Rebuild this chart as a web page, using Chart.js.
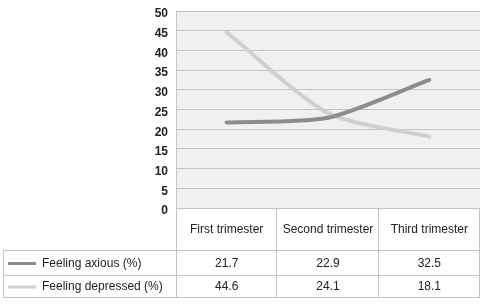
<!DOCTYPE html>
<html>
<head>
<meta charset="utf-8">
<script src="https://cdn.jsdelivr.net/npm/chart.js@4"></script>
<style>
  html, body { margin: 0; padding: 0; background: #fff; }
  #wrap { width: 485px; height: 307px; position: relative; }
</style>
</head>
<body>
<div id="wrap"><canvas id="trimesterChart"></canvas></div>
<script>
const categories = ["First trimester", "Second trimester", "Third trimester"];
const anxiousValues = [21.7, 22.9, 32.5];
const depressedValues = [44.6, 24.1, 18.1];
const seriesNames = ["Feeling axious (%)", "Feeling depressed (%)"];
const seriesColors = ["#8c8c8c", "#cfcfcf"];

const gridColor = "#c4c4c4";
const textColor = "#222";
const font = "Liberation Sans, Arial, sans-serif";

// plot background + data table under the x axis
const tablePlugin = {
  id: "dataTable",
  beforeDraw(chart) {
    const { ctx, chartArea: a } = chart;
    ctx.save();
    ctx.fillStyle = "#f0f0f0";
    ctx.fillRect(a.left, a.top, a.right - a.left, a.bottom - a.top);
    ctx.restore();
  },
  afterDraw(chart) {
    const { ctx, chartArea: a } = chart;
    const colW = (a.right - a.left) / categories.length;
    const headBottom = a.bottom + 42;
    const rowBottoms = [a.bottom + 67, a.bottom + 89];
    const tableLeft = 3;

    ctx.save();
    ctx.strokeStyle = gridColor;
    ctx.lineWidth = 1;
    ctx.beginPath();
    // left plot edge down through table
    ctx.moveTo(a.left + 0.5, a.top);
    ctx.lineTo(a.left + 0.5, rowBottoms[1]);
    // column separators
    for (let i = 1; i <= categories.length; i++) {
      const x = Math.round(a.left + colW * i) - 0.5;
      ctx.moveTo(x, a.bottom);
      ctx.lineTo(x, rowBottoms[1]);
    }
    // row lines
    [headBottom, ...rowBottoms].forEach((y) => {
      ctx.moveTo(tableLeft, y + 0.5);
      ctx.lineTo(a.right, y + 0.5);
    });
    ctx.moveTo(a.left, a.bottom + 0.5);
    ctx.lineTo(a.right, a.bottom + 0.5);
    ctx.moveTo(tableLeft + 0.5, headBottom);
    ctx.lineTo(tableLeft + 0.5, rowBottoms[1]);
    ctx.stroke();

    ctx.fillStyle = textColor;
    ctx.font = "12px " + font;
    ctx.textAlign = "center";
    ctx.textBaseline = "middle";
    categories.forEach((c, i) => {
      ctx.fillText(c, a.left + colW * (i + 0.5), a.bottom + 22);
    });

    const rows = [anxiousValues, depressedValues];
    const rowTops = [headBottom, rowBottoms[0]];
    rows.forEach((vals, r) => {
      const yMid = (rowTops[r] + rowBottoms[r]) / 2 + 1;
      ctx.strokeStyle = seriesColors[r];
      ctx.lineWidth = 3;
      ctx.beginPath();
      ctx.moveTo(8, yMid);
      ctx.lineTo(36, yMid);
      ctx.stroke();
      ctx.textAlign = "left";
      ctx.fillText(seriesNames[r], 42, yMid);
      ctx.textAlign = "center";
      vals.forEach((v, i) => {
        ctx.fillText(v.toFixed(1), a.left + colW * (i + 0.5), yMid);
      });
    });
    ctx.restore();
  },
};

new Chart(document.getElementById("trimesterChart"), {
  type: "line",
  data: {
    labels: categories,
    datasets: [
      {
        label: seriesNames[0],
        data: anxiousValues,
        borderColor: seriesColors[0],
        borderWidth: 4,
        pointRadius: 0,
        tension: 0.25,
        borderCapStyle: "round",
      },
      {
        label: seriesNames[1],
        data: depressedValues,
        borderColor: seriesColors[1],
        borderWidth: 4,
        pointRadius: 0,
        tension: 0.25,
        borderCapStyle: "round",
      },
    ],
  },
  options: {
    responsive: true,
    maintainAspectRatio: false,
    animation: false,
    layout: { padding: { top: 11, right: 5, bottom: 99, left: 0 } },
    plugins: { legend: { display: false }, tooltip: { enabled: false } },
    scales: {
      x: { display: false, offset: true },
      y: {
        min: 0,
        max: 50,
        afterFit(scale) {
          scale.width = 176;
          scale.paddingTop = 0;
          scale.paddingBottom = 0;
        },
        ticks: {
          stepSize: 5,
          padding: 8,
          labelOffset: 3,
          color: textColor,
          font: { family: font, size: 12, weight: "bold" },
        },
        grid: { color: gridColor, drawTicks: false },
        border: { color: gridColor },
      },
    },
  },
  plugins: [tablePlugin],
});
</script>
</body>
</html>
